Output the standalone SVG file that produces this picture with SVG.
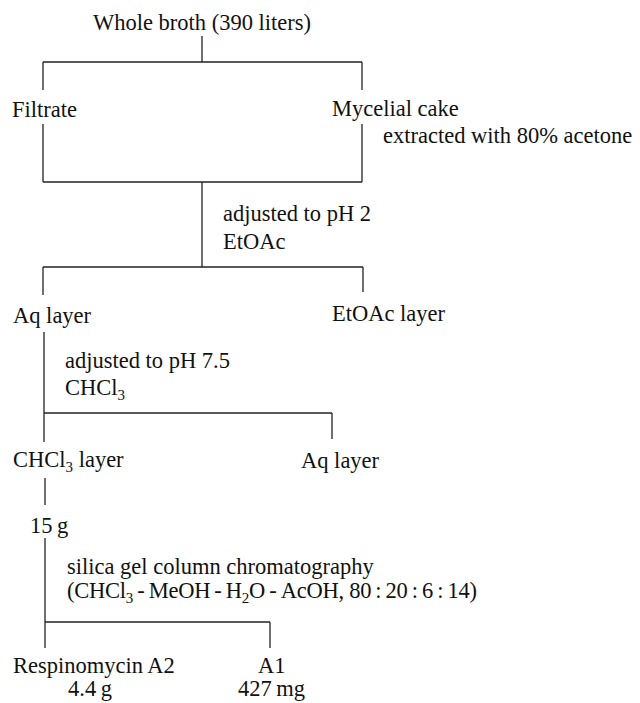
<svg xmlns="http://www.w3.org/2000/svg" width="640" height="703" viewBox="0 0 640 703">
<style>
  text { font-family: "Liberation Serif", "Times New Roman", serif; font-size: 22.5px; fill: #111; }
  .sub { font-size: 15px; }
  #connectors line { stroke: #222; stroke-width: 1.3; fill: none; }
</style>
<rect x="0" y="0" width="640" height="703" fill="#ffffff"/>
<g id="connectors">
  <line x1="202" y1="36" x2="202" y2="62"/>
  <line x1="43" y1="62" x2="362" y2="62"/>
  <line x1="43" y1="62" x2="43" y2="90"/>
  <line x1="362" y1="62" x2="362" y2="90"/>
  <line x1="43" y1="124" x2="43" y2="182"/>
  <line x1="362" y1="124" x2="362" y2="182"/>
  <line x1="43" y1="182" x2="362" y2="182"/>
  <line x1="202" y1="182" x2="202" y2="267"/>
  <line x1="43" y1="267" x2="363" y2="267"/>
  <line x1="43" y1="267" x2="43" y2="295"/>
  <line x1="363" y1="267" x2="363" y2="292"/>
  <line x1="44" y1="332" x2="44" y2="442"/>
  <line x1="44" y1="413" x2="332" y2="413"/>
  <line x1="332" y1="413" x2="332" y2="439"/>
  <line x1="45" y1="478" x2="45" y2="505"/>
  <line x1="45" y1="538" x2="45" y2="648"/>
  <line x1="45" y1="622" x2="270" y2="622"/>
  <line x1="270" y1="622" x2="270" y2="648"/>
</g>
<g id="whole-broth"><text x="93" y="30">Whole broth (390 liters)</text></g>
<g id="filtrate"><text x="12" y="117">Filtrate</text></g>
<g id="mycelial-cake"><text x="332" y="116">Mycelial cake</text></g>
<g id="label-extracted"><text x="383" y="143">extracted with 80% acetone</text></g>
<g id="label-ph2">
  <text x="223" y="221">adjusted to pH 2</text>
  <text x="223" y="249">EtOAc</text>
</g>
<g id="aq-layer-1"><text x="13" y="323">Aq layer</text></g>
<g id="etoac-layer"><text x="332" y="321">EtOAc layer</text></g>
<g id="label-ph75">
  <text x="65" y="368">adjusted to pH 7.5</text>
  <text x="65" y="395">CHCl<tspan class="sub" dy="5">3</tspan></text>
</g>
<g id="chcl3-layer"><text x="13" y="467">CHCl<tspan class="sub" dy="5">3</tspan><tspan dy="-5"> layer</tspan></text></g>
<g id="aq-layer-2"><text x="301" y="468">Aq layer</text></g>
<g id="amount-15g"><text x="30" y="533">15&#8201;g</text></g>
<g id="label-silica">
  <text x="67" y="574">silica gel column chromatography</text>
  <text x="67" y="598" textLength="410" lengthAdjust="spacing">(CHCl<tspan class="sub" dy="5">3</tspan><tspan dy="-5">&#8201;-&#8201;MeOH&#8201;-&#8201;H</tspan><tspan class="sub" dy="5">2</tspan><tspan dy="-5">O&#8201;-&#8201;AcOH, 80&#8201;:&#8201;20&#8201;:&#8201;6&#8201;:&#8201;14)</tspan></text>
</g>
<g id="respinomycin-a2">
  <text x="13" y="673">Respinomycin A2</text>
  <text x="68" y="696">4.4&#8201;g</text>
</g>
<g id="a1">
  <text x="258" y="673">A1</text>
  <text x="238" y="696">427&#8201;mg</text>
</g>
</svg>
